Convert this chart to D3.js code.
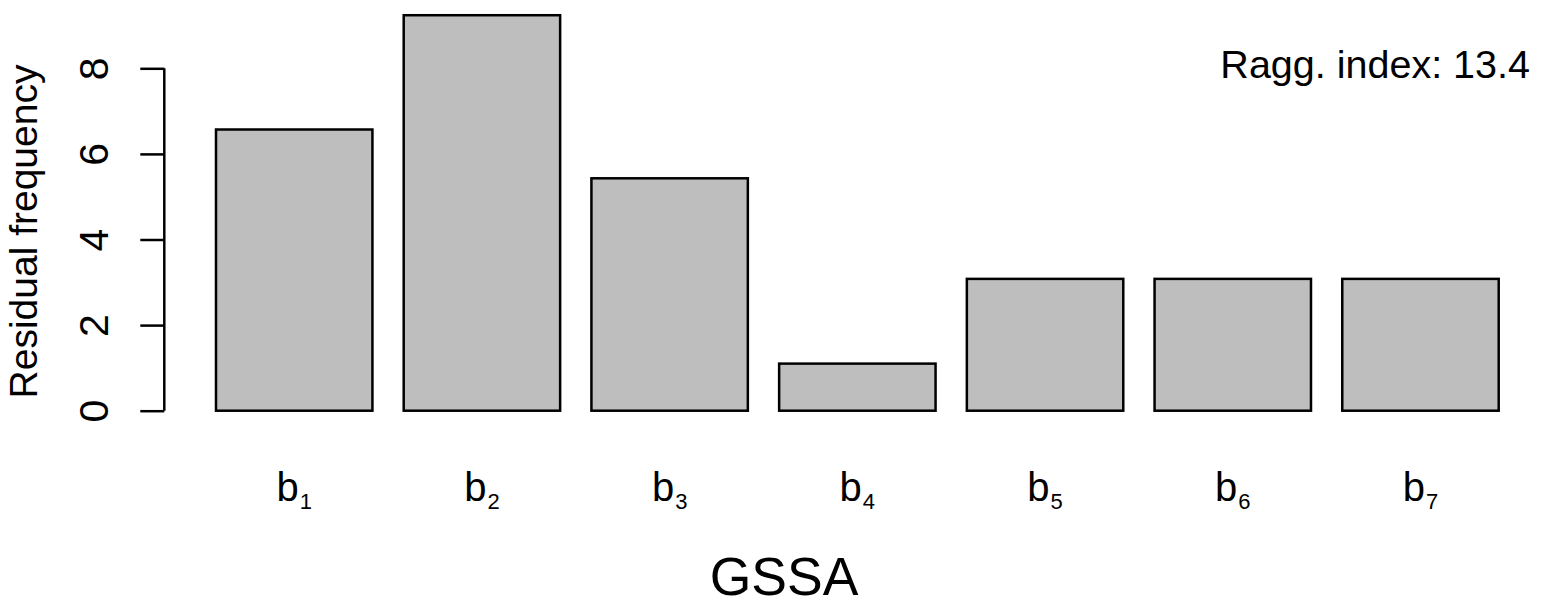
<!DOCTYPE html>
<html>
<head>
<meta charset="utf-8">
<script src="https://cdn.jsdelivr.net/npm/d3@7"></script>
<style>
  html, body { margin: 0; padding: 0; background: #fff; }
  svg { display: block; font-family: "Liberation Sans", Arial, Helvetica, sans-serif; }
</style>
</head>
<body>
<svg id="chart" width="1550" height="606"></svg>
<script>
// ---- data ----
const categories = ["b1", "b2", "b3", "b4", "b5", "b6", "b7"];
const labelBase = ["b", "b", "b", "b", "b", "b", "b"];
const labelSub = ["1", "2", "3", "4", "5", "6", "7"];
const values = [6.57, 9.24, 5.43, 1.10, 3.08, 3.08, 3.08];
const yTicks = [0, 2, 4, 6, 8];
const xTitle = "GSSA";
const yTitle = "Residual frequency";
const annotation = "Ragg. index: 13.4";

// ---- drawing ----
const svg = d3.select("#chart");

const x = d3.scaleBand()
  .domain(categories)
  .range([216, 1498.7])
  .paddingInner(1 / 6)
  .paddingOuter(0);

const y = d3.scaleLinear()
  .domain([0, 8])
  .range([410.7, 68.3]);

// bars
svg.append("g")
  .selectAll("rect")
  .data(values)
  .join("rect")
  .attr("x", (d, i) => x(categories[i]))
  .attr("y", d => y(d))
  .attr("width", x.bandwidth())
  .attr("height", d => y(0) - y(d))
  .attr("fill", "#bebebe")
  .attr("stroke", "#000")
  .attr("stroke-width", 2.5);

// y axis
const yAxis = d3.axisLeft(y)
  .tickValues(yTicks)
  .tickSize(24)
  .tickPadding(0)
  .tickFormat(d3.format("d"));

const gy = svg.append("g")
  .attr("transform", "translate(164.3,0)")
  .call(yAxis);
gy.select(".domain").attr("stroke", "#000").attr("stroke-width", 2.5)
  .attr("d", `M0,${y(0)}V${y(8)}`);
gy.selectAll(".tick line").attr("stroke", "#000").attr("stroke-width", 2.5);
gy.selectAll(".tick text")
  .attr("fill", "#000")
  .attr("font-size", 41)
  .attr("font-family", "Liberation Sans, Arial, sans-serif")
  .attr("text-anchor", "middle")
  .attr("x", null)
  .attr("dy", null)
  .attr("transform", "translate(-56,0) rotate(-90)")
  .attr("y", 0);

// x category labels with subscripts
const xl = svg.append("g")
  .selectAll("text")
  .data(categories)
  .join("text")
  .attr("x", d => x(d) + x.bandwidth() / 2)
  .attr("y", 501)
  .attr("text-anchor", "middle")
  .attr("font-size", 40)
  .attr("fill", "#000");
xl.append("tspan").text((d, i) => labelBase[i]);
xl.append("tspan").attr("font-size", 22).attr("dx", 1).attr("dy", 8).text((d, i) => labelSub[i]);

// axis titles
svg.append("text")
  .attr("x", 784)
  .attr("y", 594.5)
  .attr("text-anchor", "middle")
  .attr("font-size", 53.5)
  .attr("fill", "#000")
  .text(xTitle);

svg.append("text")
  .attr("transform", "translate(36.7,231.5) rotate(-90)")
  .attr("text-anchor", "middle")
  .attr("font-size", 39)
  .attr("fill", "#000")
  .text(yTitle);

// annotation
svg.append("text")
  .attr("x", 1530)
  .attr("y", 78.3)
  .attr("text-anchor", "end")
  .attr("font-size", 39.5)
  .attr("fill", "#000")
  .text(annotation);
</script>
</body>
</html>
